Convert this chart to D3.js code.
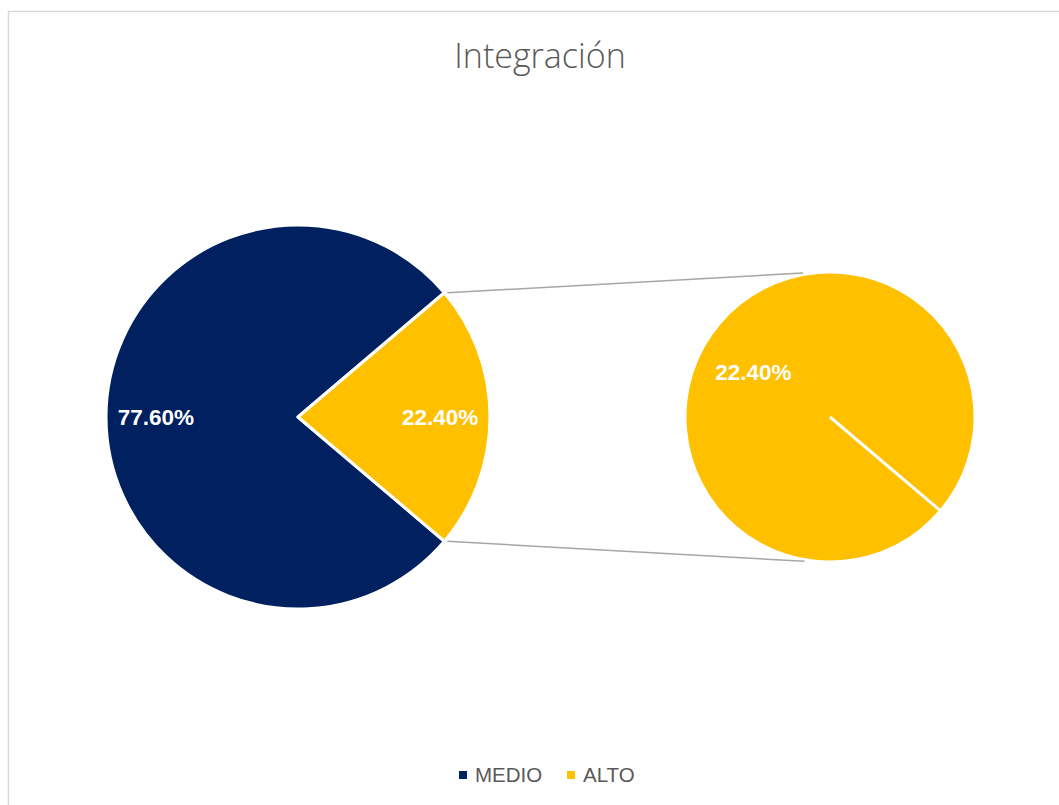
<!DOCTYPE html>
<html>
<head>
<meta charset="utf-8">
<script src="https://cdn.jsdelivr.net/npm/d3@7"></script>
<style>
  body { margin: 0; background: #fff; }
  svg { display: block; }
</style>
</head>
<body>
<svg width="1059" height="805"></svg>
<script>
// data
const categories = ['MEDIO', 'ALTO']
const values = [77.6, 22.4]
const colors = ['#002060', '#FFC000']
// the second pie only splits out ALTO
const secondCategories = ['ALTO']
const secondValues = [22.4]

const svg = d3.select('svg')

// chart area border (runs past the right and bottom edge)
svg.append('rect')
  .attr('x', 8.5).attr('y', 11.5)
  .attr('width', 1100).attr('height', 900)
  .attr('fill', '#fff')
  .attr('stroke', '#d9d9d9')
  .attr('stroke-width', 1.5)

svg.append('text')
  .attr('x', 540).attr('y', 68)
  .attr('text-anchor', 'middle')
  .attr('font-family', 'Open Sans, sans-serif')
  .attr('font-weight', 300)
  .attr('font-size', 34)
  .attr('fill', '#595959')
  .text('Integración')

const color = d3.scaleOrdinal().domain(categories).range(colors)
const fmt = v => v.toFixed(2) + '%'

// main pie: ALTO slice centred on the right side
const half = Math.PI * values[1] / 100
const pie = d3.pie().sort(null).value(d => d.v)
  .startAngle(Math.PI / 2 + half)
  .endAngle(Math.PI / 2 + half + 2 * Math.PI)
const mainData = pie(categories.map((c, i) => ({ c, v: values[i] })))

const c1 = [298, 417], r1 = 192
const arc1 = d3.arc().innerRadius(0).outerRadius(r1)
const g1 = svg.append('g').attr('transform', 'translate(' + c1 + ')')

g1.selectAll('path')
  .data(mainData)
  .enter().append('path')
    .attr('d', arc1)
    .attr('fill', d => color(d.data.c))
    .attr('stroke', '#fff')
    .attr('stroke-width', 3)
    .attr('stroke-linejoin', 'round')

const labelArc1 = d3.arc().innerRadius(r1 * 0.74).outerRadius(r1 * 0.74)
g1.selectAll('text')
  .data(mainData)
  .enter().append('text')
    .attr('transform', d => 'translate(' + labelArc1.centroid(d) + ')')
    .attr('text-anchor', 'middle')
    .attr('dy', '0.36em')
    .attr('font-family', 'Liberation Sans, Arial, sans-serif')
    .attr('font-weight', 'bold')
    .attr('font-size', 22.5)
    .attr('fill', '#fff')
    .text(d => fmt(d.data.v))

// second pie: one full slice starting at the lower edge of ALTO
const c2 = [830, 417], r2 = 143.5
const start2 = Math.PI / 2 + half
const pie2 = d3.pie().sort(null).value(d => d.v)
  .startAngle(start2).endAngle(start2 + 2 * Math.PI)
const secondData = pie2(secondCategories.map((c, i) => ({ c, v: secondValues[i] })))

// connector lines
const mainTop = d3.pointRadial(Math.PI / 2 - half, r1)
const mainBot = d3.pointRadial(Math.PI / 2 + half, r1)
const secTop = d3.pointRadial(-0.185, r2 + 3)
const secBot = d3.pointRadial(Math.PI + 0.175, r2 + 3)
const lines = [
  [[c1[0] + mainTop[0], c1[1] + mainTop[1]], [c2[0] + secTop[0], c2[1] + secTop[1]]],
  [[c1[0] + mainBot[0], c1[1] + mainBot[1]], [c2[0] + secBot[0], c2[1] + secBot[1]]]
]
svg.selectAll('line.conn')
  .data(lines)
  .enter().append('line')
    .attr('class', 'conn')
    .attr('x1', d => d[0][0] + 3).attr('y1', d => d[0][1])
    .attr('x2', d => d[1][0]).attr('y2', d => d[1][1])
    .attr('stroke', '#a6a6a6')
    .attr('stroke-width', 1.5)

const g2 = svg.append('g').attr('transform', 'translate(' + c2 + ')')
const arc2 = d3.arc().innerRadius(0).outerRadius(r2)
g2.selectAll('path')
  .data(secondData)
  .enter().append('path')
    .attr('d', arc2)
    .attr('fill', d => color(d.data.c))

// white edge of the single slice
g2.selectAll('line')
  .data(secondData)
  .enter().append('line')
    .attr('x1', 0).attr('y1', 0)
    .attr('x2', d => d3.pointRadial(d.startAngle, r2)[0])
    .attr('y2', d => d3.pointRadial(d.startAngle, r2)[1])
    .attr('stroke', '#fff')
    .attr('stroke-width', 3)

g2.selectAll('text')
  .data(secondData)
  .enter().append('text')
    .attr('transform', d => {
      const p = d3.pointRadial((d.startAngle + d.endAngle) / 2 - 0.17, r2 * 0.62)
      return 'translate(' + p + ')'
    })
    .attr('text-anchor', 'middle')
    .attr('dy', '0.36em')
    .attr('font-family', 'Liberation Sans, Arial, sans-serif')
    .attr('font-weight', 'bold')
    .attr('font-size', 22.5)
    .attr('fill', '#fff')
    .text(d => fmt(d.data.v))

// legend
const legend = svg.append('g')
  .attr('font-family', 'Liberation Sans, Arial, sans-serif')
  .attr('font-size', 20.5)
  .attr('fill', '#595959')
const legendX = d3.scaleOrdinal().domain(categories).range([459, 567])
const item = legend.selectAll('g')
  .data(categories)
  .enter().append('g')
    .attr('transform', d => 'translate(' + legendX(d) + ',775)')
item.append('rect')
  .attr('x', 0).attr('y', -4)
  .attr('width', 8).attr('height', 8)
  .attr('fill', d => color(d))
item.append('text')
  .attr('x', 16)
  .attr('dy', '0.36em')
  .text(d => d)
</script>
</body>
</html>
